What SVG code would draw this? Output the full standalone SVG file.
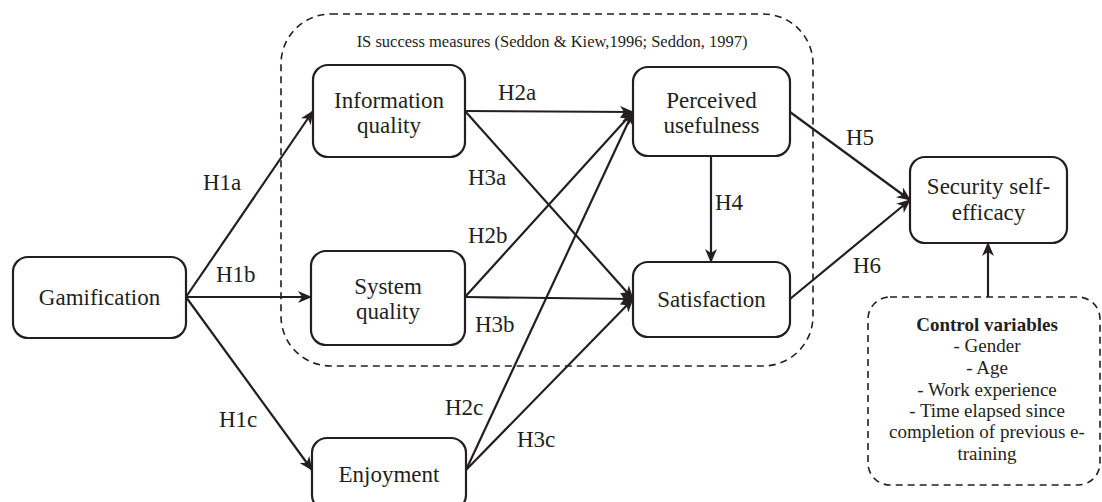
<svg xmlns="http://www.w3.org/2000/svg" width="1102" height="502" viewBox="0 0 1102 502">
<style>
.node{fill:#fff;stroke:#231f20;stroke-width:2.2}
.dash{fill:none;stroke:#231f20;stroke-width:1.6;stroke-dasharray:7 5}
text{font-family:'Liberation Serif','DejaVu Serif',serif;fill:#231f20}
.t{font-size:23px;text-anchor:middle}
.lbl{font-size:23px}
.sm{font-size:16.5px;text-anchor:middle}
.cv{font-size:19px;text-anchor:middle}
.e{fill:none;stroke:#231f20;stroke-width:2.2;marker-end:url(#ah)}
</style>
<defs>
<marker id="ah" markerUnits="userSpaceOnUse" markerWidth="14" markerHeight="12" refX="13" refY="6" orient="auto">
<path d="M0,0 L14,6 L0,12 L4,6 z" fill="#231f20"/>
</marker>
</defs>
<rect width="1102" height="502" fill="#fff"/>
<g id="is-success-group">
<rect class="dash" x="281" y="14" width="532" height="352" rx="50" ry="50"/>
<text class="sm" x="552" y="47" font-family="Liberation Serif, serif">IS success measures (Seddon &amp; Kiew,1996; Seddon, 1997)</text>
</g>
<g id="connectors">
<line class="e" x1="186" y1="297" x2="313" y2="111"/>
<line class="e" x1="186" y1="297" x2="311" y2="297"/>
<line class="e" x1="186" y1="297" x2="312" y2="470"/>
<line class="e" x1="465" y1="111" x2="633" y2="112"/>
<line class="e" x1="465" y1="111" x2="633" y2="299"/>
<line class="e" x1="465" y1="297" x2="633" y2="112"/>
<line class="e" x1="465" y1="297" x2="633" y2="299"/>
<line class="e" x1="466" y1="470" x2="633" y2="112"/>
<line class="e" x1="466" y1="470" x2="633" y2="299"/>
<line class="e" x1="711" y1="157" x2="711" y2="262"/>
<line class="e" x1="790" y1="112" x2="910" y2="200"/>
<line class="e" x1="790" y1="299" x2="910" y2="200"/>
<line class="e" x1="988" y1="297" x2="988" y2="243"/>
<text class="lbl" x="203" y="190">H1a</text>
<text class="lbl" x="216" y="282">H1b</text>
<text class="lbl" x="219" y="427">H1c</text>
<text class="lbl" x="498" y="100">H2a</text>
<text class="lbl" x="468" y="185">H3a</text>
<text class="lbl" x="468" y="243">H2b</text>
<text class="lbl" x="475" y="332">H3b</text>
<text class="lbl" x="445" y="415">H2c</text>
<text class="lbl" x="517" y="447">H3c</text>
<text class="lbl" x="715" y="210">H4</text>
<text class="lbl" x="846" y="145">H5</text>
<text class="lbl" x="853" y="273">H6</text>
</g>
<g id="gamification">
<rect class="node" x="13" y="257" width="173" height="81" rx="15"/>
<text class="t" x="99.5" y="305">Gamification</text>
</g>
<g id="information-quality">
<rect class="node" x="313" y="65" width="152" height="92" rx="15"/>
<text class="t" x="389" y="108">Information</text>
<text class="t" x="389" y="133">quality</text>
</g>
<g id="system-quality">
<rect class="node" x="311" y="251" width="154" height="94" rx="15"/>
<text class="t" x="388" y="294">System</text>
<text class="t" x="388" y="319">quality</text>
</g>
<g id="enjoyment">
<rect class="node" x="312" y="438" width="154" height="72" rx="15"/>
<text class="t" x="389" y="482">Enjoyment</text>
</g>
<g id="perceived-usefulness">
<rect class="node" x="633" y="67" width="157" height="89" rx="15"/>
<text class="t" x="711.5" y="108">Perceived</text>
<text class="t" x="711.5" y="133">usefulness</text>
</g>
<g id="satisfaction">
<rect class="node" x="633" y="262" width="157" height="75" rx="15"/>
<text class="t" x="711.5" y="307">Satisfaction</text>
</g>
<g id="security-self-efficacy">
<rect class="node" x="910" y="157" width="157" height="86" rx="15"/>
<text class="t" x="988.5" y="194">Security self-</text>
<text class="t" x="988.5" y="220">efficacy</text>
</g>
<g id="control-variables">
<rect class="dash" x="868" y="297" width="232" height="188" rx="22"/>
<text class="cv" x="987" y="331" font-weight="bold">Control variables</text>
<text class="cv" x="987" y="352">- Gender</text>
<text class="cv" x="987" y="374">- Age</text>
<text class="cv" x="987" y="396">- Work experience</text>
<text class="cv" x="987" y="417">- Time elapsed since</text>
<text class="cv" x="987" y="438">completion of previous e-</text>
<text class="cv" x="987" y="460">training</text>
</g>
</svg>
